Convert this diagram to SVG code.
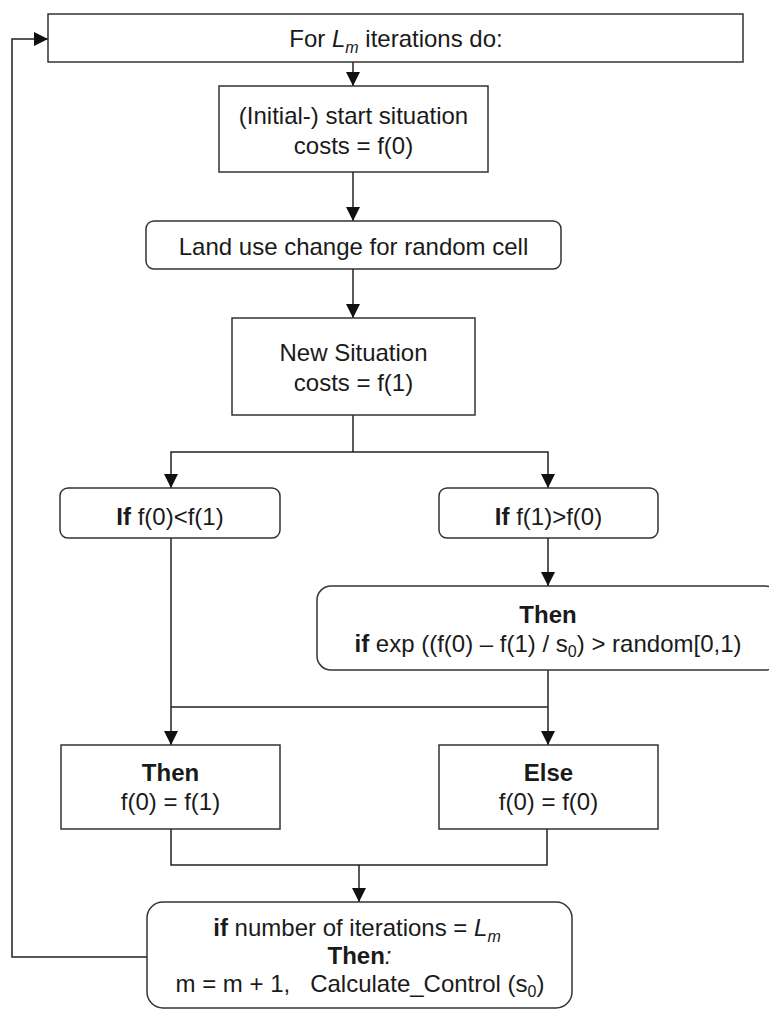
<svg xmlns="http://www.w3.org/2000/svg" width="769" height="1010" viewBox="0 0 769 1010">
<style>
.box{fill:#fff;stroke:#333;stroke-width:1.5}
.con{fill:none;stroke:#222;stroke-width:1.5}
text{font-family:"Liberation Sans",Arial,sans-serif;font-size:24px;fill:#1a1a1a;text-anchor:middle}
.b{font-weight:bold}
.i{font-style:italic}
.sub{font-size:16px}
</style>
<defs>
<marker id="arr" markerUnits="userSpaceOnUse" markerWidth="14" markerHeight="14" refX="14" refY="7" orient="auto">
<path d="M0,0 L14,7 L0,14 z" fill="#111"/>
</marker>
</defs>
<rect width="769" height="1010" fill="#fff"/>
<g id="connectors">
<path class="con" d="M353,62 V86" marker-end="url(#arr)"/>
<path class="con" d="M353,172 V221" marker-end="url(#arr)"/>
<path class="con" d="M353,269 V318" marker-end="url(#arr)"/>
<path class="con" d="M353,415 V452"/>
<path class="con" d="M353,452 H171 V488" marker-end="url(#arr)"/>
<path class="con" d="M353,452 H548 V488" marker-end="url(#arr)"/>
<path class="con" d="M548,538 V586" marker-end="url(#arr)"/>
<path class="con" d="M171,538 V745" marker-end="url(#arr)"/>
<path class="con" d="M548,670 V745" marker-end="url(#arr)"/>
<path class="con" d="M171,707 H548"/>
<path class="con" d="M171,829 V865 H547 V829"/>
<path class="con" d="M359,865 V902" marker-end="url(#arr)"/>
<path class="con" d="M147,957 H12 V39 H48" marker-end="url(#arr)"/>
</g>
<g id="n-for">
<rect class="box" x="48" y="14" width="695" height="48"/>
<text x="396" y="47">For <tspan class="i">L</tspan><tspan class="i sub" dy="6">m</tspan><tspan dy="-6"> iterations do:</tspan></text>
</g>
<g id="n-start">
<rect class="box" x="219" y="86" width="269" height="86"/>
<text x="353.5" y="124">(Initial-) start situation</text>
<text x="353.5" y="154">costs = f(0)</text>
</g>
<g id="n-landuse">
<rect class="box" x="146" y="221" width="415" height="48" rx="8"/>
<text x="353.5" y="255">Land use change for random cell</text>
</g>
<g id="n-new">
<rect class="box" x="232" y="318" width="243" height="97"/>
<text x="353.5" y="361">New Situation</text>
<text x="353.5" y="391">costs = f(1)</text>
</g>
<g id="n-if1">
<rect class="box" x="60" y="488" width="220" height="50" rx="8"/>
<text x="170" y="525"><tspan class="b">If</tspan> f(0)&lt;f(1)</text>
</g>
<g id="n-if2">
<rect class="box" x="439" y="488" width="219" height="50" rx="8"/>
<text x="548.5" y="525"><tspan class="b">If</tspan> f(1)&gt;f(0)</text>
</g>
<g id="n-thenexp">
<rect class="box" x="317" y="586" width="462" height="84" rx="14"/>
<text class="b" x="548" y="623">Then</text>
<text x="548" y="652"><tspan class="b">if</tspan> exp ((f(0) – f(1) / s<tspan class="sub" dy="5">0</tspan><tspan dy="-5">) &gt; random[0,1)</tspan></text>
</g>
<g id="n-then">
<rect class="box" x="61" y="745" width="219" height="84"/>
<text class="b" x="170.5" y="781">Then</text>
<text x="170.5" y="810">f(0) = f(1)</text>
</g>
<g id="n-else">
<rect class="box" x="439" y="745" width="219" height="84"/>
<text class="b" x="548.5" y="781">Else</text>
<text x="548.5" y="810">f(0) = f(0)</text>
</g>
<g id="n-final">
<rect class="box" x="147" y="902" width="425" height="106" rx="16"/>
<text x="357" y="936"><tspan class="b">if</tspan> number of iterations = <tspan class="i">L</tspan><tspan class="i sub" dy="6">m</tspan></text>
<text x="359.5" y="964"><tspan class="b">Then</tspan><tspan class="i">:</tspan></text>
<text x="360" y="992" xml:space="preserve">m = m + 1,   Calculate_Control (s<tspan class="sub" dy="5">0</tspan><tspan dy="-5">)</tspan></text>
</g>
</svg>
